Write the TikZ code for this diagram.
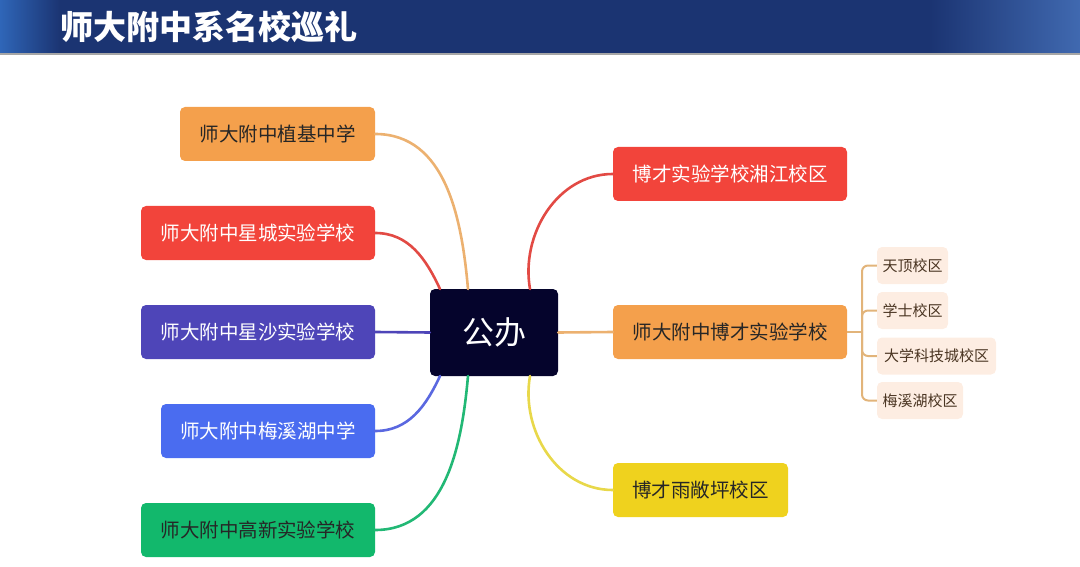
\documentclass[tikz,border=0pt]{standalone}
\usepackage{fontspec}
\newfontfamily\cjk{Noto Sans CJK SC}
\usetikzlibrary{positioning}

\definecolor{hdrdark}{HTML}{1B3472}
\definecolor{hdrlight}{HTML}{2F66B8}
\definecolor{hdrright}{HTML}{4069B0}
\definecolor{rootfill}{HTML}{05042C}
\definecolor{orfill}{HTML}{F4A04C}
\definecolor{orline}{HTML}{ECB170}
\definecolor{rdfill}{HTML}{F2443B}
\definecolor{rdline}{HTML}{E24A44}
\definecolor{pufill}{HTML}{4E45B8}
\definecolor{buline}{HTML}{5A68E0}
\definecolor{bufill}{HTML}{4A6CF0}
\definecolor{grfill}{HTML}{12B86C}
\definecolor{grline}{HTML}{22B875}
\definecolor{yefill}{HTML}{EFD21E}
\definecolor{yeline}{HTML}{E8D84A}
\definecolor{subfill}{HTML}{FDEDE2}
\definecolor{subtext}{HTML}{4A3522}
\definecolor{subline}{HTML}{E2B47A}

\begin{document}
\begin{tikzpicture}[x=1pt,y=-1pt]
\tikzset{
  topic/.style={rectangle,rounded corners=5pt,minimum height=54pt,inner sep=0pt,font=\cjk\fontsize{19.5}{22}\selectfont},
  subtopic/.style={rectangle,rounded corners=5pt,fill=subfill,text=subtext,minimum height=37pt,inner sep=0pt,font=\cjk\fontsize{15}{18}\selectfont},
  branch/.style={line width=2.6pt,line cap=round}
}
\useasboundingbox (0,0) rectangle (1080,567);
% header band
\fill[hdrdark] (0,0) rectangle (1080,54);
\shade[left color=hdrlight,right color=hdrdark] (0,0) rectangle (60,54);
\shade[left color=hdrdark,right color=hdrright] (930,0) rectangle (1080,54);
\fill[gray!70] (0,53) rectangle (1080,55);
\node[anchor=west,text=white,font=\cjk\bfseries\fontsize{33}{36}\selectfont] (n_title) at (57,27) {师大附中系名校巡礼};

% root
\node[topic,fill=rootfill,text=white,minimum width=128pt,minimum height=87pt,font=\cjk\fontsize{32}{36}\selectfont] (n_gb) at (494,332.5) {公办};

% left topics
\node[topic,fill=orfill,text=black!85,minimum width=195pt] (n_zj) at (277.5,134) {师大附中植基中学};
\node[topic,fill=rdfill,text=white,minimum width=234pt] (n_xc) at (258,233) {师大附中星城实验学校};
\node[topic,fill=pufill,text=white,minimum width=234pt] (n_xs) at (258,332) {师大附中星沙实验学校};
\node[topic,fill=bufill,text=white,minimum width=214pt] (n_mx) at (268,431) {师大附中梅溪湖中学};
\node[topic,fill=grfill,text=black!85,minimum width=234pt] (n_gx) at (258,530) {师大附中高新实验学校};

% right topics
\node[topic,fill=rdfill,text=white,minimum width=234pt] (n_xj) at (730,174) {博才实验学校湘江校区};
\node[topic,fill=orfill,text=black!85,minimum width=234pt] (n_bc) at (730,332) {师大附中博才实验学校};
\node[topic,fill=yefill,text=black!85,minimum width=175pt] (n_yc) at (700.5,490) {博才雨敞坪校区};

% campuses
\node[subtopic,minimum width=71pt] (n_td) at (912.5,265.5) {天顶校区};
\node[subtopic,minimum width=71pt] (n_xsh) at (912.5,310.5) {学士校区};
\node[subtopic,minimum width=119pt] (n_dx) at (936.5,356) {大学科技城校区};
\node[subtopic,minimum width=86pt] (n_mxh) at (920,400.5) {梅溪湖校区};

% attach points on root
\coordinate (gb_nl) at (440,289);
\coordinate (gb_nm) at (468,289);
\coordinate (gb_nr) at (530,289);
\coordinate (gb_sl) at (440,376);
\coordinate (gb_sm) at (468,376);
\coordinate (gb_sr) at (530,376);
\coordinate (bc_fork) at (862,332);

% branches
\draw[branch,orline] (n_zj.east) to[out=0,in=95] (gb_nm);
\draw[branch,rdline] (n_xc.east) to[out=0,in=115] (gb_nl);
\draw[branch,pufill] (n_xs.east) -- (n_gb.west);
\draw[branch,buline] (n_mx.east) to[out=0,in=-115] (gb_sl);
\draw[branch,grline] (n_gx.east) to[out=0,in=-95] (gb_sm);
\draw[branch,rdline] (gb_nr) to[out=100,in=180] (n_xj.west);
\draw[branch,orline] (n_gb.east) -- (n_bc.west);
\draw[branch,yeline] (gb_sr) to[out=-100,in=180] (n_yc.west);

% campus bracket
\draw[line width=2pt,subline] (n_bc.east) -- (bc_fork);
\draw[line width=2pt,subline,rounded corners=6pt] (bc_fork) |- (n_td.west);
\draw[line width=2pt,subline,rounded corners=6pt] (bc_fork) |- (n_xsh.west);
\draw[line width=2pt,subline,rounded corners=6pt] (bc_fork) |- (n_dx.west);
\draw[line width=2pt,subline,rounded corners=6pt] (bc_fork) |- (n_mxh.west);
\end{tikzpicture}
\end{document}
